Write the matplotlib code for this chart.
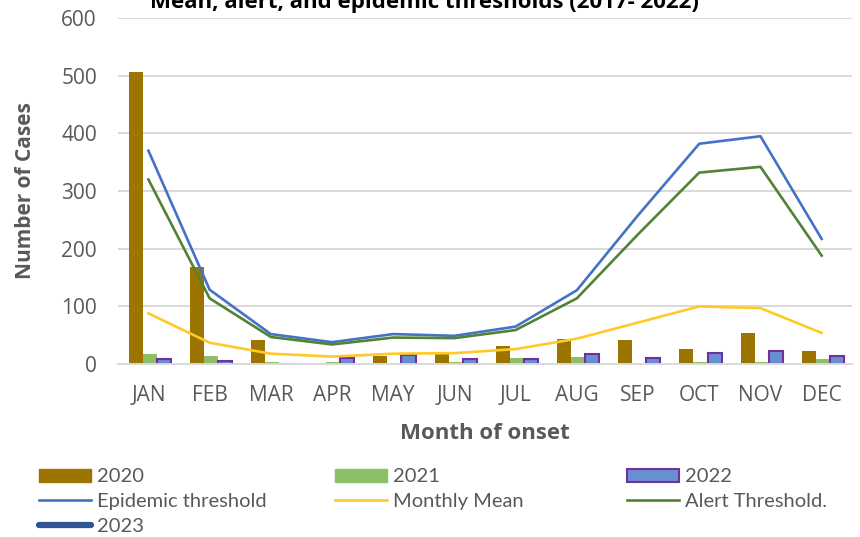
import numpy as np
import matplotlib.pyplot as plt
from matplotlib.patches import Patch
from matplotlib.lines import Line2D

months = ['JAN', 'FEB', 'MAR', 'APR', 'MAY', 'JUN',
          'JUL', 'AUG', 'SEP', 'OCT', 'NOV', 'DEC']

cases_2020 = [507, 168, 41, 2, 14, 18, 31, 43, 41, 27, 54, 22]
cases_2021 = [17, 14, 3, 3, 1, 3, 11, 12, 1, 3, 4, 8]
cases_2022 = [8, 6, 1, 10, 16, 8, 8, 17, 10, 20, 22, 14]

epidemic_threshold = [370, 129, 52, 38, 52, 49, 65, 128, 258, 382, 395, 217]
alert_threshold = [320, 114, 47, 34, 46, 45, 59, 114, 225, 332, 342, 188]
monthly_mean = [88, 37, 18, 13, 18, 19, 26, 44, 72, 100, 97, 54]

plt.rcParams['font.family'] = ['Open Sans', 'DejaVu Sans']
grey = '#595959'

fig = plt.figure(figsize=(8.6, 5.37), dpi=100)
ax = fig.add_axes([0.137, 0.322, 0.854, 0.6445])

x = np.arange(len(months))
w = 0.23
ax.bar(x - w + 0.02, cases_2020, w, color='#9C7400', zorder=2)
ax.bar(x + 0.02, cases_2021, w, color='#8DC066', zorder=2)
ax.bar(x + w + 0.02, cases_2022, w, color='#6A8FD0', edgecolor='#7030A0',
       linewidth=1.5, zorder=2)

ax.plot(x, epidemic_threshold, color='#4472C4', lw=1.9, zorder=3)
ax.plot(x, monthly_mean, color='#FFC928', lw=1.9, zorder=3)
ax.plot(x, alert_threshold, color='#548235', lw=1.9, zorder=3)

ax.set_xlim(-0.5, 11.5)
ax.set_ylim(0, 600)
ax.set_yticks(range(0, 601, 100))
ax.set_xticks(x)
ax.set_xticklabels(months)
ax.tick_params(length=0, labelsize=15, labelcolor=grey)
ax.tick_params(axis='x', pad=15)
ax.tick_params(axis='y', pad=15)
ax.grid(axis='y', color='#D9D9D9', lw=1.4, zorder=0)
for s in ['top', 'right', 'left']:
    ax.spines[s].set_visible(False)
ax.spines['bottom'].set_color('#D9D9D9')
ax.spines['bottom'].set_linewidth(1.4)

ax.set_ylabel('Number of Cases', fontsize=15, fontweight='bold', color=grey,
              labelpad=18)
ax.set_xlabel('Month of onset', fontsize=16, fontweight='bold', color=grey,
              labelpad=12)

fig.text(0.493, 0.985, 'Mean, alert, and epidemic thresholds (2017- 2022)',
         ha='center', va='baseline', fontsize=16, fontweight='bold',
         color='black')

# legend laid out as three fixed columns
leg_font = {'family': ['Lato', 'DejaVu Sans'], 'size': 14.5}
columns = [
    ([Patch(color='#9C7400'),
      Line2D([], [], color='#4472C4', lw=1.9),
      Line2D([], [], color='#2F5597', lw=4.5, solid_capstyle='round')],
     ['2020', 'Epidemic threshold', '2023'], 0.045),
    ([Patch(color='#8DC066'),
      Line2D([], [], color='#FFC928', lw=1.9)],
     ['2021', 'Monthly Mean'], 0.389),
    ([Patch(facecolor='#6A8FD0', edgecolor='#7030A0', lw=1.5),
      Line2D([], [], color='#548235', lw=1.9)],
     ['2022', 'Alert Threshold.'], 0.729),
]
for handles, labels, xpos in columns:
    leg = fig.legend(handles, labels, loc='upper left',
                     bbox_to_anchor=(xpos, 0.128), frameon=False,
                     prop=leg_font, labelcolor=grey, handlelength=2.6,
                     handleheight=0.6, handletextpad=0.28, labelspacing=0.39,
                     borderpad=0, borderaxespad=0)

fig.savefig('out.png', dpi=100)
